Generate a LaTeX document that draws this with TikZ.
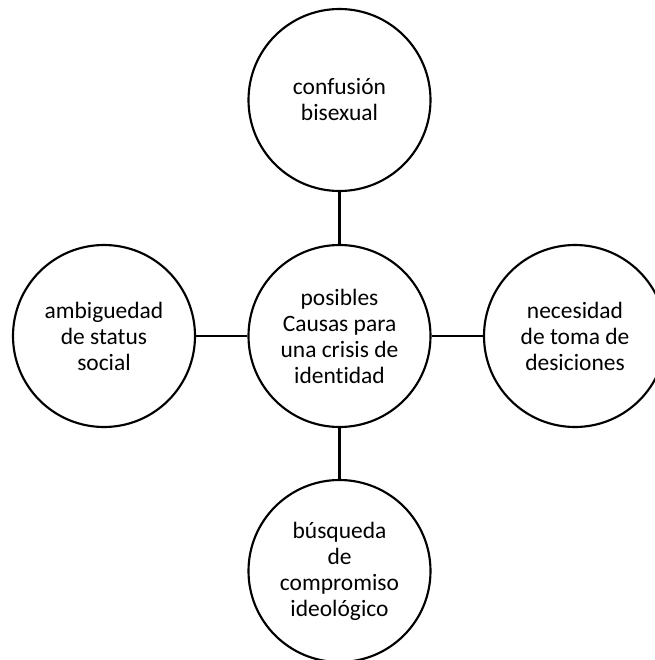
\documentclass[tikz,border=0pt]{standalone}
\usepackage{fontspec}
\setmainfont{Carlito}[Ligatures=NoCommon]
\begin{document}
\begin{tikzpicture}[x=0.75pt,y=-0.75pt,
  idea/.style={circle,draw=black,line width=1.6pt,minimum size=136.5pt,inner sep=0pt,
    align=center,font=\fontsize{17.6}{19.5}\selectfont},
  link/.style={draw=black,line width=1.6pt}]
  \useasboundingbox (0,0) rectangle (655,660);
  \node[idea] (hub)    at (339.5,336) {posibles\\Causas para\\una crisis de\\identidad};
  \node[idea] (top)    at (339.5,100) {confusión\\bisexual};
  \node[idea] (left)   at (104,336)   {ambiguedad\\de status\\social};
  \node[idea] (right)  at (575,336)   {necesidad\\de toma de\\desiciones};
  \node[idea] (bottom) at (339.5,571) {búsqueda\\de\\compromiso\\ideológico};
  \draw[link] (hub) -- (top);
  \draw[link] (hub) -- (left);
  \draw[link] (hub) -- (right);
  \draw[link] (hub) -- (bottom);
\end{tikzpicture}
\end{document}
